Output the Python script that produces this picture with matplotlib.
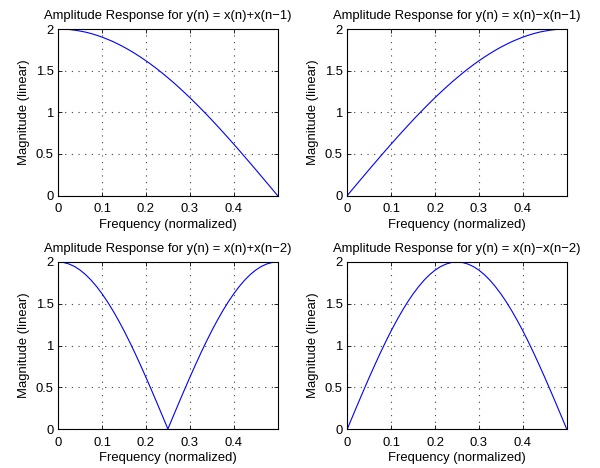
import matplotlib
matplotlib.use("Agg")
import matplotlib.pyplot as plt

plt.rcParams['font.family'] = ['Liberation Sans', 'DejaVu Sans']

freq = [0.0, 0.0125, 0.025, 0.0375, 0.05, 0.0625, 0.075, 0.0875, 0.1, 0.1125,
        0.125, 0.1375, 0.15, 0.1625, 0.175, 0.1875, 0.2, 0.2125, 0.225, 0.2375,
        0.25, 0.2625, 0.275, 0.2875, 0.3, 0.3125, 0.325, 0.3375, 0.35, 0.3625,
        0.375, 0.3875, 0.4, 0.4125, 0.425, 0.4375, 0.45, 0.4625, 0.475, 0.4875, 0.5]

mag_sum1 = [2.000, 1.998, 1.994, 1.986, 1.975, 1.962, 1.945, 1.925, 1.902, 1.876,
            1.848, 1.816, 1.782, 1.745, 1.705, 1.663, 1.618, 1.571, 1.521, 1.469,
            1.414, 1.358, 1.299, 1.238, 1.176, 1.111, 1.045, 0.977, 0.908, 0.837,
            0.765, 0.692, 0.618, 0.543, 0.467, 0.390, 0.313, 0.235, 0.157, 0.079, 0.000]

mag_diff1 = [0.000, 0.079, 0.157, 0.235, 0.313, 0.390, 0.467, 0.543, 0.618, 0.692,
             0.765, 0.837, 0.908, 0.977, 1.045, 1.111, 1.176, 1.238, 1.299, 1.358,
             1.414, 1.469, 1.521, 1.571, 1.618, 1.663, 1.705, 1.745, 1.782, 1.816,
             1.848, 1.876, 1.902, 1.925, 1.945, 1.962, 1.975, 1.986, 1.994, 1.998, 2.000]

mag_sum2 = [2.000, 1.994, 1.975, 1.945, 1.902, 1.848, 1.782, 1.705, 1.618, 1.521,
            1.414, 1.299, 1.176, 1.045, 0.908, 0.765, 0.618, 0.467, 0.313, 0.157,
            0.000, 0.157, 0.313, 0.467, 0.618, 0.765, 0.908, 1.045, 1.176, 1.299,
            1.414, 1.521, 1.618, 1.705, 1.782, 1.848, 1.902, 1.945, 1.975, 1.994, 2.000]

mag_diff2 = [0.000, 0.157, 0.313, 0.467, 0.618, 0.765, 0.908, 1.045, 1.176, 1.299,
             1.414, 1.521, 1.618, 1.705, 1.782, 1.848, 1.902, 1.945, 1.975, 1.994,
             2.000, 1.994, 1.975, 1.945, 1.902, 1.848, 1.782, 1.705, 1.618, 1.521,
             1.414, 1.299, 1.176, 1.045, 0.908, 0.765, 0.618, 0.467, 0.313, 0.157, 0.000]

titles = ["Amplitude Response for y(n) = x(n)+x(n\u22121)",
          "Amplitude Response for y(n) = x(n)\u2212x(n\u22121)",
          "Amplitude Response for y(n) = x(n)+x(n\u22122)",
          "Amplitude Response for y(n) = x(n)\u2212x(n\u22122)"]
series = [mag_sum1, mag_diff1, mag_sum2, mag_diff2]

xticks = [0, 0.1, 0.2, 0.3, 0.4]
xticklabels = ["0", "0.1", "0.2", "0.3", "0.4"]
yticks = [0, 0.5, 1, 1.5, 2]
yticklabels = ["0", "0.5", "1", "1.5", "2"]

W, H = 600, 468
fig = plt.figure(figsize=(6, 4.68), dpi=100)
boxes = [(58.3, 29, 277.5, 195.5), (347.3, 29, 566.7, 195.5),
         (58.3, 262, 277.5, 429), (347.3, 262, 566.7, 429)]
fs = 9.4
for (x0, y0, x1, y1), ys, t in zip(boxes, series, titles):
    ax = fig.add_axes([x0 / W, 1 - y1 / H, (x1 - x0) / W, (y1 - y0) / H])
    ax.plot(freq, ys, color=(0, 0, 1), lw=0.8)
    ax.set_xlim(0, 0.5)
    ax.set_ylim(0, 2)
    ax.set_xticks(xticks)
    ax.set_xticklabels(xticklabels)
    ax.set_yticks(yticks)
    ax.set_yticklabels(yticklabels)
    ax.tick_params(direction='in', length=3, width=0.6, top=True, right=True,
                   labelsize=fs)
    ax.tick_params(axis='x', pad=5.5)
    ax.tick_params(axis='y', pad=3.3)
    ax.grid(True, linestyle=(0, (1, 5)), color='0.25', lw=0.8)
    for s in ax.spines.values():
        s.set_linewidth(0.8)
    ax.set_title(t, fontsize=fs, pad=7)
    ax.set_xlabel("Frequency (normalized)", fontsize=fs, labelpad=2.5)
    ax.set_ylabel("Magnitude (linear)", fontsize=fs, labelpad=4)

fig.savefig("out.png", dpi=100)
